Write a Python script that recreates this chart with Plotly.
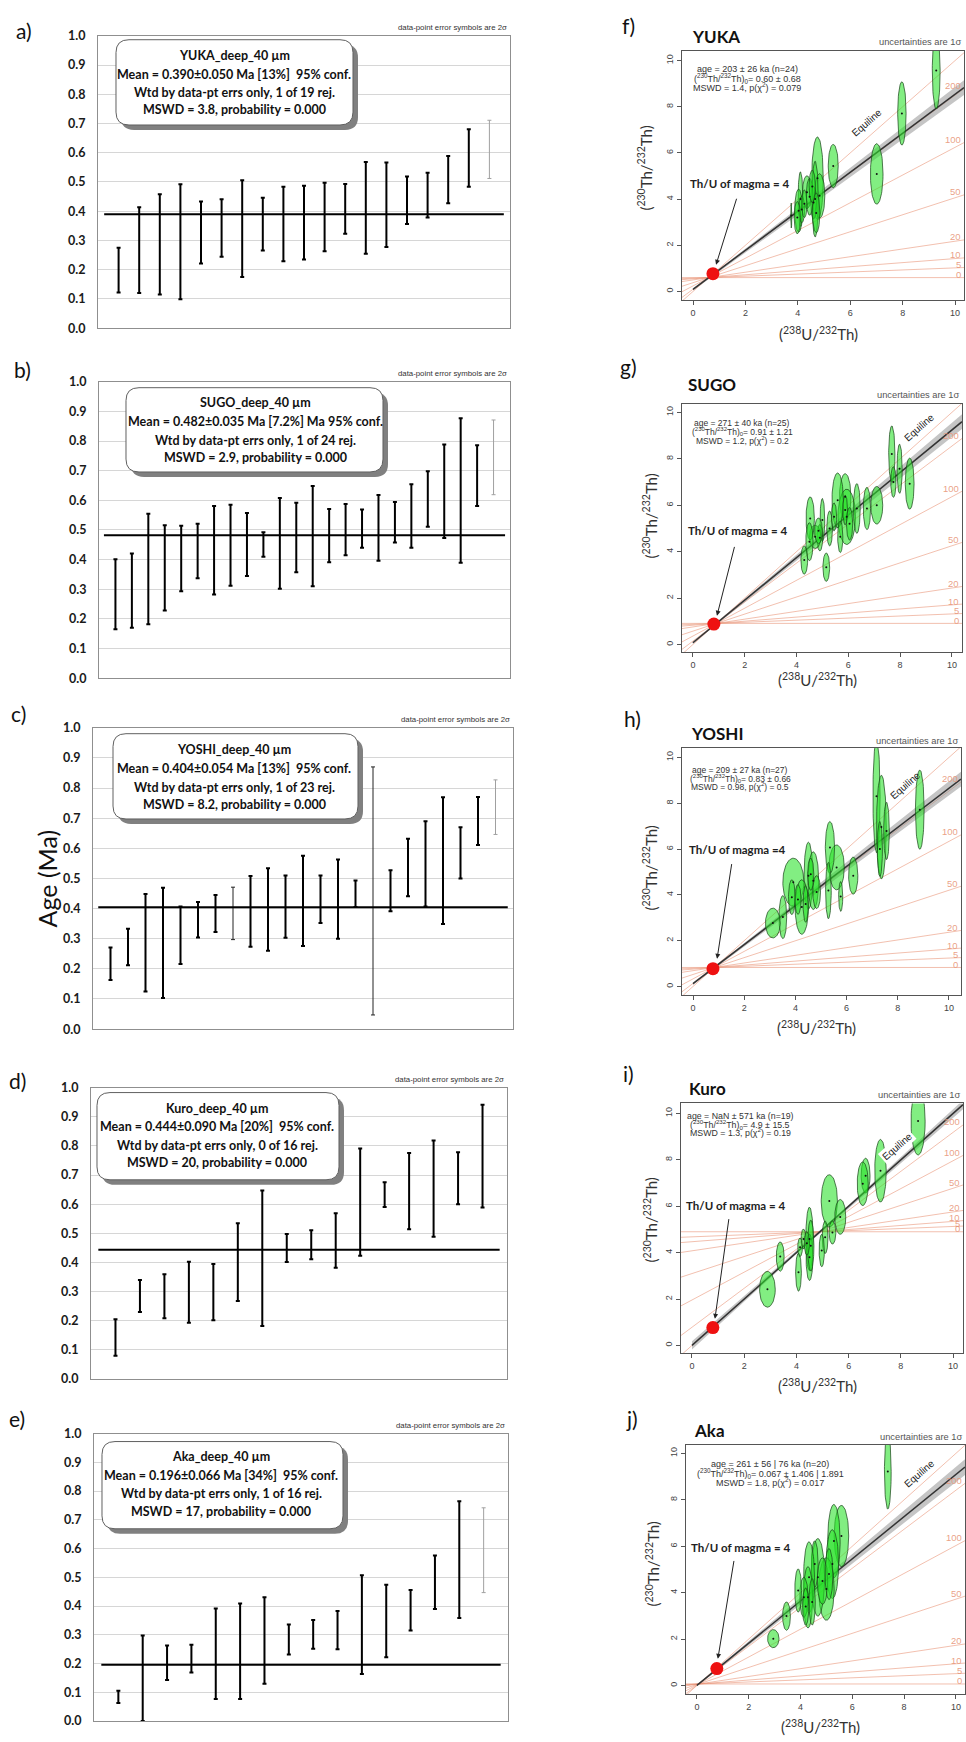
import numpy as np
import plotly.graph_objects as go

W, H = 966, 1742

# ============ DATA: weighted-mean age panels (Ma), 2-sigma bar ends ============
yuka_hi = [0.275, 0.414, 0.458, 0.492, 0.433, 0.441, 0.506, 0.446, 0.484, 0.487,
           0.497, 0.493, 0.568, 0.567, 0.519, 0.532, 0.589, 0.680, 0.711]
yuka_lo = [0.122, 0.120, 0.115, 0.099, 0.221, 0.244, 0.175, 0.266, 0.229, 0.235,
           0.263, 0.323, 0.255, 0.278, 0.356, 0.379, 0.427, 0.484, 0.512]
sugo_hi = [0.401, 0.421, 0.555, 0.516, 0.514, 0.521, 0.581, 0.585, 0.557, 0.492,
           0.608, 0.592, 0.648, 0.571, 0.588, 0.569, 0.618, 0.594, 0.654, 0.698,
           0.788, 0.877, 0.786, 0.871]
sugo_lo = [0.165, 0.170, 0.182, 0.228, 0.293, 0.337, 0.282, 0.312, 0.345, 0.410,
           0.302, 0.357, 0.310, 0.391, 0.415, 0.440, 0.396, 0.458, 0.440, 0.511,
           0.473, 0.389, 0.581, 0.619]
yoshi_hi = [0.271, 0.333, 0.448, 0.469, 0.407, 0.422, 0.445, 0.471, 0.508, 0.534,
            0.510, 0.575, 0.510, 0.563, 0.493, 0.870, 0.527, 0.632, 0.690, 0.769,
            0.670, 0.770, 0.827]
yoshi_lo = [0.163, 0.212, 0.125, 0.103, 0.216, 0.304, 0.322, 0.297, 0.273, 0.260,
            0.303, 0.276, 0.352, 0.300, 0.405, 0.047, 0.391, 0.441, 0.407, 0.349,
            0.500, 0.611, 0.646]
kuro_hi = [0.205, 0.340, 0.360, 0.403, 0.395, 0.535, 0.647, 0.498, 0.511, 0.569,
           0.791, 0.675, 0.776, 0.819, 0.778, 0.941]
kuro_lo = [0.080, 0.230, 0.209, 0.193, 0.202, 0.268, 0.182, 0.402, 0.411, 0.382,
           0.423, 0.590, 0.514, 0.488, 0.600, 0.589]
aka_hi = [0.106, 0.298, 0.263, 0.266, 0.392, 0.409, 0.431, 0.336, 0.352, 0.383,
          0.507, 0.474, 0.456, 0.576, 0.765, 0.742]
aka_lo = [0.063, 0.000, 0.143, 0.169, 0.077, 0.077, 0.130, 0.232, 0.252, 0.250,
          0.164, 0.222, 0.315, 0.390, 0.359, 0.447]

wm_hi = [yuka_hi, sugo_hi, yoshi_hi, kuro_hi, aka_hi]
wm_lo = [yuka_lo, sugo_lo, yoshi_lo, kuro_lo, aka_lo]
wm_mean = [0.390, 0.482, 0.404, 0.444, 0.196]
wm_rejected = [[19], [24], [23], [], [16]]      # 1-based grain positions (grey bars)
wm_thin = [[], [], [8, 16], [], []]             # 1-based grain positions (thin bars)
wm_box_text = [
    ["YUKA_deep_40 µm", "Mean = 0.390±0.050 Ma [13%]\u00a0\u00a095% conf.",
     "Wtd by data-pt errs only, 1 of 19 rej.", "MSWD = 3.8, probability = 0.000"],
    ["SUGO_deep_40 µm", "Mean = 0.482±0.035 Ma [7.2%] Ma 95% conf.",
     "Wtd by data-pt errs only, 1 of 24 rej.", "MSWD = 2.9, probability = 0.000"],
    ["YOSHI_deep_40 µm", "Mean = 0.404±0.054 Ma [13%]\u00a0\u00a095% conf.",
     "Wtd by data-pt errs only, 1 of 23 rej.", "MSWD = 8.2, probability = 0.000"],
    ["Kuro_deep_40 µm", "Mean = 0.444±0.090 Ma [20%]\u00a0\u00a095% conf.",
     "Wtd by data-pt errs only, 0 of 16 rej.", "MSWD = 20, probability = 0.000"],
    ["Aka_deep_40 µm", "Mean = 0.196±0.066 Ma [34%]\u00a0\u00a095% conf.",
     "Wtd by data-pt errs only, 1 of 16 rej.", "MSWD = 17, probability = 0.000"],
]
wm_letters = ["a)", "b)", "c)", "d)", "e)"]

# ============ DATA: U-Th isochron panels ============
iso_titles = ["YUKA", "SUGO", "YOSHI", "Kuro", "Aka"]
iso_letters = ["f)", "g)", "h)", "i)", "j)"]
iso_age_ka = [203, 271, 209, np.nan, 261]
iso_th0 = [0.60, 0.91, 0.83, 4.9, 0.067]
ref_ages_ka = [0, 5, 10, 20, 50, 100, 200]
ref_labels = ["0", "5", "10", "20", "50", "100", "200"]
magma_x = [0.76, 0.81, 0.78, 0.80, 0.77]
magma_y = [0.77, 0.88, 0.78, 0.77, 0.73]
x_ticks = [0, 2, 4, 6, 8, 10]

yuka_cx = [9.28, 7.97, 7.01, 5.35, 4.75, 4.83, 4.66, 4.35, 4.10, 4.03, 4.60, 4.70, 4.15, 3.75, 4.45, 3.98, 4.25, 4.55]
yuka_cy = [9.57, 7.71, 5.09, 5.43, 4.90, 4.14, 4.00, 4.30, 4.00, 3.50, 3.85, 3.40, 3.55, 3.29, 4.10, 3.20, 3.80, 4.55]
yuka_sx = [0.15, 0.16, 0.24, 0.19, 0.22, 0.20, 0.12, 0.17, 0.09, 0.15, 0.11, 0.14, 0.11, 0.02, 0.13, 0.12, 0.10, 0.12]
yuka_sy = [1.67, 1.37, 1.31, 0.94, 1.79, 0.96, 1.64, 0.71, 1.18, 0.93, 0.71, 0.86, 0.57, 0.54, 0.80, 0.70, 0.60, 0.70]

sugo_cx = [7.68, 7.98, 8.37, 7.74, 7.10, 6.72, 5.88, 5.94, 5.59, 6.33, 5.88, 5.69, 5.28, 5.15, 5.00, 4.90, 4.72, 4.53, 4.50, 4.30, 4.85, 5.45, 6.05]
sugo_cy = [8.21, 7.57, 6.93, 7.00, 6.00, 5.86, 6.36, 5.50, 6.21, 5.86, 5.79, 4.64, 5.00, 3.33, 5.36, 4.60, 4.64, 5.43, 4.43, 3.64, 4.90, 5.50, 5.20]
sugo_sx = [0.12, 0.10, 0.17, 0.10, 0.23, 0.14, 0.22, 0.34, 0.22, 0.13, 0.09, 0.10, 0.11, 0.13, 0.09, 0.11, 0.22, 0.16, 0.14, 0.13, 0.15, 0.10, 0.12]
sugo_sy = [1.21, 1.06, 1.10, 0.66, 0.81, 0.91, 1.00, 1.19, 1.18, 1.07, 0.64, 0.68, 0.75, 0.61, 0.93, 0.57, 0.50, 0.93, 0.82, 0.61, 0.55, 0.60, 0.70]

yoshi_cx = [8.86, 7.17, 7.36, 7.56, 6.26, 5.61, 5.35, 5.29, 5.77, 4.51, 4.70, 4.83, 3.92, 4.25, 3.86, 3.51, 3.12, 4.10, 4.40, 4.60, 7.30]
yoshi_cy = [7.72, 8.30, 6.96, 6.79, 4.84, 5.20, 6.07, 4.19, 3.93, 4.84, 4.62, 4.12, 4.55, 3.47, 3.90, 3.03, 2.77, 3.80, 3.60, 4.90, 6.00]
yoshi_sx = [0.17, 0.14, 0.19, 0.11, 0.18, 0.30, 0.18, 0.11, 0.08, 0.17, 0.21, 0.15, 0.41, 0.26, 0.13, 0.15, 0.29, 0.12, 0.10, 0.12, 0.10]
yoshi_sy = [1.73, 2.46, 2.26, 1.25, 0.81, 0.98, 1.13, 1.23, 0.65, 1.46, 1.26, 0.72, 1.05, 1.19, 0.76, 0.94, 0.65, 0.65, 0.80, 0.70, 1.20]

kuro_cx = [8.66, 7.22, 6.65, 6.54, 5.26, 5.68, 5.38, 5.10, 4.97, 4.50, 4.50, 4.27, 4.08, 4.14, 3.38, 2.89, 4.55, 4.40]
kuro_cy = [9.67, 7.53, 7.32, 6.97, 6.23, 5.54, 4.87, 4.66, 4.09, 4.59, 3.80, 4.59, 3.16, 4.23, 3.83, 2.42, 4.30, 4.40]
kuro_sx = [0.27, 0.22, 0.17, 0.21, 0.31, 0.21, 0.13, 0.11, 0.10, 0.14, 0.13, 0.09, 0.11, 0.09, 0.15, 0.30, 0.12, 0.10]
kuro_sy = [1.46, 1.35, 0.75, 0.94, 1.13, 0.75, 0.50, 0.70, 0.70, 1.37, 1.00, 0.43, 0.82, 0.40, 0.63, 0.77, 1.10, 0.50]

aka_cx = [7.37, 5.58, 5.29, 5.23, 5.00, 4.67, 4.55, 4.33, 4.29, 4.13, 3.91, 3.46, 2.95, 4.85, 5.10, 4.45, 4.20]
aka_cy = [9.22, 6.44, 6.22, 5.23, 4.16, 4.66, 5.23, 4.66, 3.80, 3.80, 4.09, 2.99, 2.02, 4.50, 4.80, 3.60, 3.40]
aka_sx = [0.13, 0.28, 0.24, 0.24, 0.30, 0.26, 0.13, 0.21, 0.18, 0.16, 0.13, 0.15, 0.22, 0.20, 0.15, 0.12, 0.12]
aka_sy = [1.62, 1.32, 1.58, 1.48, 1.35, 1.67, 1.00, 1.53, 1.32, 0.86, 0.93, 0.61, 0.39, 1.00, 1.10, 1.00, 0.80]

iso_cx = [yuka_cx, sugo_cx, yoshi_cx, kuro_cx, aka_cx]
iso_cy = [yuka_cy, sugo_cy, yoshi_cy, kuro_cy, aka_cy]
iso_sx = [yuka_sx, sugo_sx, yoshi_sx, kuro_sx, aka_sx]
iso_sy = [yuka_sy, sugo_sy, yoshi_sy, kuro_sy, aka_sy]

TH = "(<sup>230</sup>Th/<sup>232</sup>Th)<sub>0</sub>= "
iso_stats = [
    ["age = 203 ± 26 ka (n=24)", TH + "0.60 ± 0.68", "MSWD = 1.4, p(χ<sup>2</sup>) = 0.079"],
    ["age = 271 ± 40 ka (n=25)", TH + "0.91 ± 1.21", "MSWD = 1.2, p(χ<sup>2</sup>) = 0.2"],
    ["age = 209 ± 27 ka (n=27)", TH + "0.83 ± 0.66", "MSWD = 0.98, p(χ<sup>2</sup>) = 0.5"],
    ["age = NaN ± 571 ka (n=19)", TH + "4.9 ± 15.5", "MSWD = 1.3, p(χ<sup>2</sup>) = 0.19"],
    ["age = 261 ± 56 | 76 ka (n=20)", TH + "0.067 ± 1.406 | 1.891", "MSWD = 1.8, p(χ<sup>2</sup>) = 0.017"],
]
magma_text = ["Th/U of magma = 4", "Th/U of magma = 4", "Th/U of magma =4",
              "Th/U of magma = 4", "Th/U of magma = 4"]

LAM = np.log(2) / 75.584   # 230Th decay constant, per ka

# ============ LAYOUT GEOMETRY (pixels) ============
left_boxes = [(98, 510, 28, 323), (99, 510, 377, 676), (93, 513, 726, 1030),
              (91, 507, 1089, 1383), (94, 508, 1438, 1728)]
info_boxes = [(116, 32, 353, 118), (126, 383, 383, 468), (113, 732, 358, 818),
              (97, 1094, 339, 1182), (102, 1446, 343, 1534)]
info_cx = [234, 255, 234, 217, 221]
info_ly = [[48, 67, 85, 102], [398, 417, 436, 453], [748, 767, 786, 803],
           [1110, 1128, 1147, 1165], [1461, 1480, 1498, 1517]]
left_letter_pos = [(24, 23), (22, 365), (18, 712), (17, 1082), (17, 1423)]

right_boxes = [(682, 964, 43, 295), (682, 962, 399, 650), (682, 961, 746, 996),
               (681, 963, 1105, 1357), (686, 965, 1449, 1701)]
right_xr = [(-0.42, 10.34), (-0.42, 10.39), (-0.43, 10.47), (-0.42, 10.38), (-0.42, 10.35)]
right_yr = [(-0.39, 10.43), (-0.34, 10.38), (-0.39, 10.43), (-0.34, 10.43), (-0.38, 10.38)]
right_letter_pos = [(628, 18), (628, 362), (632, 717), (628, 1075), (632, 1423)]
title_pos = [(690, 29), (686, 380), (689, 732), (687, 1090), (692, 1435)]
unc_y = [34, 390, 739, 1096, 1441]
stats_cx = [747, 742, 740, 740, 770]
stats_ly = [[62, 71, 80], [419, 427.5, 436], [769, 777, 785], [1118, 1126, 1134], [1469, 1478, 1487]]
stats_fs = [9, 8.5, 8.5, 8.8, 9]
ytitle_pos = [(645, 162), (650, 513), (650, 868), (650, 1223), (652, 1570)]
xtitle_y = [328, 677, 1028, 1389, 1733]
equi_pos = [(6.64, 7.3), (8.73, 9.36), (8.28, 8.79), (7.85, 8.59), (8.58, 9.15)]
magma_txt_pos = [(1.76, 4.68), (1.74, 4.91), (1.72, 5.97), (1.65, 6.03), (1.67, 5.94)]
arrow_tail = [(1.68, 4.08), (1.62, 4.27), (1.52, 5.41), (1.42, 5.51), (1.44, 5.43)]
arrow_head = [(0.88, 1.16), (0.93, 1.24), (0.94, 1.21), (0.88, 1.15), (0.81, 1.15)]

LFONT = "Lato"
RFONT = "Liberation Sans"

fig = go.Figure()
layout = dict(width=W, height=H, margin=dict(l=0, r=0, t=0, b=0, pad=0),
              paper_bgcolor="white", plot_bgcolor="white", showlegend=False)
ann = []
shapes = []


def xa(k): return "xaxis" if k == 1 else f"xaxis{k}"
def ya(k): return "yaxis" if k == 1 else f"yaxis{k}"
def xr(k): return "x" if k == 1 else f"x{k}"
def yr(k): return "y" if k == 1 else f"y{k}"


def pnote(px, py, text, size, family=LFONT, color="#111", bold=False, xanchor="center",
          yanchor="middle", angle=0):
    ann.append(dict(x=px / W, y=1 - py / H, xref="paper", yref="paper", text=text,
                    showarrow=False, xanchor=xanchor, yanchor=yanchor, textangle=angle,
                    font=dict(family=family, size=size, color=color,
                              weight="bold" if bold else "normal")))


def rrect(x0, y0, x1, y1, r):
    def P(x, y):
        return f"{x / W:.5f},{1 - y / H:.5f}"
    return (f"M {P(x0 + r, y0)} L {P(x1 - r, y0)} Q {P(x1, y0)} {P(x1, y0 + r)} "
            f"L {P(x1, y1 - r)} Q {P(x1, y1)} {P(x1 - r, y1)} L {P(x0 + r, y1)} "
            f"Q {P(x0, y1)} {P(x0, y1 - r)} L {P(x0, y0 + r)} Q {P(x0, y0)} {P(x0 + r, y0)} Z")


# ---------------- left column: weighted mean plots ----------------
for i in range(5):
    k = i + 1
    hi = np.array(wm_hi[i]); lo = np.array(wm_lo[i]); n = len(hi)
    pos = np.arange(1, n + 1)
    mid = (hi + lo) / 2
    bx0, bx1, by0, by1 = left_boxes[i]
    layout[xa(k)] = dict(domain=[bx0 / W, bx1 / W], range=[0, n + 1], anchor=yr(k),
                         showticklabels=False, showgrid=False, zeroline=False,
                         showline=True, mirror=True, linecolor="#8f8f8f", linewidth=1,
                         ticks="")
    layout[ya(k)] = dict(domain=[1 - by1 / H, 1 - by0 / H], range=[0, 1.0], anchor=xr(k),
                         tick0=0, dtick=0.1, tickformat=".1f", showgrid=True,
                         gridcolor="#d6d6d6", gridwidth=1, zeroline=False,
                         showline=True, mirror=True, linecolor="#8f8f8f", linewidth=1,
                         ticks="outside", ticklen=9, tickcolor="rgba(0,0,0,0)",
                         tickfont=dict(family=LFONT, size=12.5, color="#1a1a1a", weight="bold"))
    rej = set(wm_rejected[i]); thin = set(wm_thin[i])
    groups = [
        ([j for j in range(n) if (j + 1) not in rej and (j + 1) not in thin], "#000000", 2),
        ([j for j in range(n) if (j + 1) in thin], "#222222", 1),
        ([j for j in range(n) if (j + 1) in rej], "#a0a0a0", 1),
    ]
    for idx, col, th in groups:
        if not idx:
            continue
        idx = np.array(idx)
        fig.add_trace(go.Scatter(
            x=pos[idx], y=mid[idx], mode="markers",
            marker=dict(size=1, color="rgba(0,0,0,0)"),
            error_y=dict(type="data", symmetric=False, array=(hi - mid)[idx],
                         arrayminus=(mid - lo)[idx], color=col, thickness=th, width=2),
            xaxis=xr(k), yaxis=yr(k), hoverinfo="skip"))
    fig.add_trace(go.Scatter(x=[0.3, n + 0.7], y=[wm_mean[i], wm_mean[i]], mode="lines",
                             line=dict(color="black", width=2), xaxis=xr(k), yaxis=yr(k),
                             hoverinfo="skip"))
    # info box with shadow
    x0, y0, x1, y1 = info_boxes[i]
    shapes.append(dict(type="path", path=rrect(x0 + 5, y0 + 5, x1 + 5, y1 + 5, 13),
                       xref="paper", yref="paper", fillcolor="#808080",
                       line=dict(width=0), layer="above"))
    shapes.append(dict(type="path", path=rrect(x0, y0, x1, y1, 13),
                       xref="paper", yref="paper", fillcolor="white",
                       line=dict(color="#606060", width=1), layer="above"))
    for t, ly in zip(wm_box_text[i], info_ly[i]):
        pnote(info_cx[i], ly, t, 12.5, bold=True, color="#111")
    pnote(bx1 - 1, by0 - 8, "data-point error symbols are 2σ", 7.8, family=RFONT,
          color="#333", xanchor="right")
    lx, ly = left_letter_pos[i]
    pnote(lx, ly, wm_letters[i], 21, color="#111")

pnote(47, 878, "Age (Ma)", 25, color="#111", angle=-90)

# ---------------- right column: isochron plots ----------------
tt = np.linspace(0, 2 * np.pi, 72)
for i in range(5):
    k = i + 6
    bx0, bx1, by0, by1 = right_boxes[i]
    xmin, xmax = right_xr[i]
    ymin, ymax = right_yr[i]
    layout[xa(k)] = dict(domain=[bx0 / W, bx1 / W], range=[xmin, xmax], anchor=yr(k),
                         tickvals=x_ticks, ticks="outside", ticklen=4, tickcolor="#555",
                         showgrid=False, zeroline=False, showline=True, mirror=True,
                         linecolor="#555", linewidth=1,
                         tickfont=dict(family=RFONT, size=9, color="#444"))
    layout[ya(k)] = dict(domain=[1 - by1 / H, 1 - by0 / H], range=[ymin, ymax], anchor=xr(k),
                         tickvals=x_ticks, ticks="outside", ticklen=4, tickcolor="#555",
                         tickangle=-90, showgrid=False, zeroline=False, showline=True,
                         mirror=True, linecolor="#555", linewidth=1,
                         tickfont=dict(family=RFONT, size=9, color="#444"))
    th0 = iso_th0[i]
    xs = np.array([xmin, xmax])
    # reference isochrons
    for a, lab in zip(ref_ages_ka, ref_labels):
        e = np.exp(-LAM * a)
        ys = th0 * e + (1 - e) * xs
        fig.add_trace(go.Scatter(x=xs, y=ys, mode="lines",
                                 line=dict(color="rgba(232,140,110,0.55)", width=1),
                                 xaxis=xr(k), yaxis=yr(k), hoverinfo="skip"))
        ann.append(dict(x=xmax - 0.05, y=th0 * e + (1 - e) * xmax, xref=xr(k), yref=yr(k),
                        text=lab, showarrow=False, xanchor="right", yanchor="middle",
                        yshift=3, font=dict(family=RFONT, size=9.5, color="rgba(232,150,120,0.9)")))
    # equiline
    fig.add_trace(go.Scatter(x=xs, y=xs, mode="lines",
                             line=dict(color="rgba(232,140,110,0.55)", width=1),
                             xaxis=xr(k), yaxis=yr(k), hoverinfo="skip"))
    # fitted isochron with uncertainty band
    age = iso_age_ka[i]
    e = 0.0 if np.isnan(age) else np.exp(-LAM * age)
    xf = np.linspace(0, xmax, 60)
    yf = th0 * e + (1 - e) * xf
    hw = 0.03 + 0.03 * np.abs(xf - th0)
    fig.add_trace(go.Scatter(x=np.concatenate([xf, xf[::-1]]),
                             y=np.concatenate([yf + hw, (yf - hw)[::-1]]),
                             mode="lines", fill="toself", fillcolor="rgba(140,140,140,0.5)",
                             line=dict(width=0), xaxis=xr(k), yaxis=yr(k), hoverinfo="skip"))
    fig.add_trace(go.Scatter(x=xf, y=yf, mode="lines", line=dict(color="#333", width=1.5),
                             xaxis=xr(k), yaxis=yr(k), hoverinfo="skip"))
    # data ellipses
    for cx, cy, sx, sy in zip(iso_cx[i], iso_cy[i], iso_sx[i], iso_sy[i]):
        fig.add_trace(go.Scatter(x=cx + sx * np.cos(tt), y=cy + sy * np.sin(tt),
                                 mode="lines", fill="toself",
                                 fillcolor="rgba(40,225,40,0.58)",
                                 line=dict(color="rgba(25,70,25,0.9)", width=0.8),
                                 xaxis=xr(k), yaxis=yr(k), hoverinfo="skip"))
    fig.add_trace(go.Scatter(x=iso_cx[i], y=iso_cy[i], mode="markers",
                             marker=dict(size=2, color="#111"),
                             xaxis=xr(k), yaxis=yr(k), hoverinfo="skip"))
    # magma Th/U point
    fig.add_trace(go.Scatter(x=[magma_x[i]], y=[magma_y[i]], mode="markers",
                             marker=dict(size=13, color="#ee1111"),
                             xaxis=xr(k), yaxis=yr(k), hoverinfo="skip"))
    tx, ty = magma_txt_pos[i]
    ann.append(dict(x=tx, y=ty, xref=xr(k), yref=yr(k), text=magma_text[i], showarrow=False,
                    font=dict(family=LFONT, size=11.5, color="#222", weight="bold")))
    ann.append(dict(x=arrow_head[i][0], y=arrow_head[i][1], ax=arrow_tail[i][0],
                    ay=arrow_tail[i][1], xref=xr(k), yref=yr(k), axref=xr(k), ayref=yr(k),
                    text="", showarrow=True, arrowhead=2, arrowsize=1, arrowwidth=1,
                    arrowcolor="#222"))
    ex, ey = equi_pos[i]
    ann.append(dict(x=ex, y=ey, xref=xr(k), yref=yr(k), text="Equiline", showarrow=False,
                    textangle=-41, bgcolor="white" if i == 3 else None,
                    font=dict(family=RFONT, size=10, color="#222")))
    for t, ly in zip(iso_stats[i], stats_ly[i]):
        pnote(stats_cx[i], ly, t, stats_fs[i], family=RFONT, color="#333")
    pnote(bx1 - 1, unc_y[i], "uncertainties are 1σ", 9.3, family=RFONT, color="#555",
          xanchor="right")
    tpx, tpy = title_pos[i]
    pnote(tpx, tpy, iso_titles[i], 17, bold=True, color="#111", xanchor="left")
    lx, ly = right_letter_pos[i]
    pnote(lx, ly, iso_letters[i], 21, color="#111")
    yx, yy = ytitle_pos[i]
    pnote(yx, yy, "(<sup>230</sup>Th/<sup>232</sup>Th)", 15, family=LFONT, color="#333", angle=-90)
    pnote((bx0 + bx1) / 2 - 5, xtitle_y[i], "(<sup>238</sup>U/<sup>232</sup>Th)", 15,
          family=LFONT, color="#333")

layout["annotations"] = ann
layout["shapes"] = shapes
fig.update_layout(**layout)
fig.write_html("out.html",
               config={"displayModeBar": False},
               post_script="document.body.style.margin='0px';"
                           "document.documentElement.style.overflow='hidden';"
                           "document.body.style.overflow='hidden';")
